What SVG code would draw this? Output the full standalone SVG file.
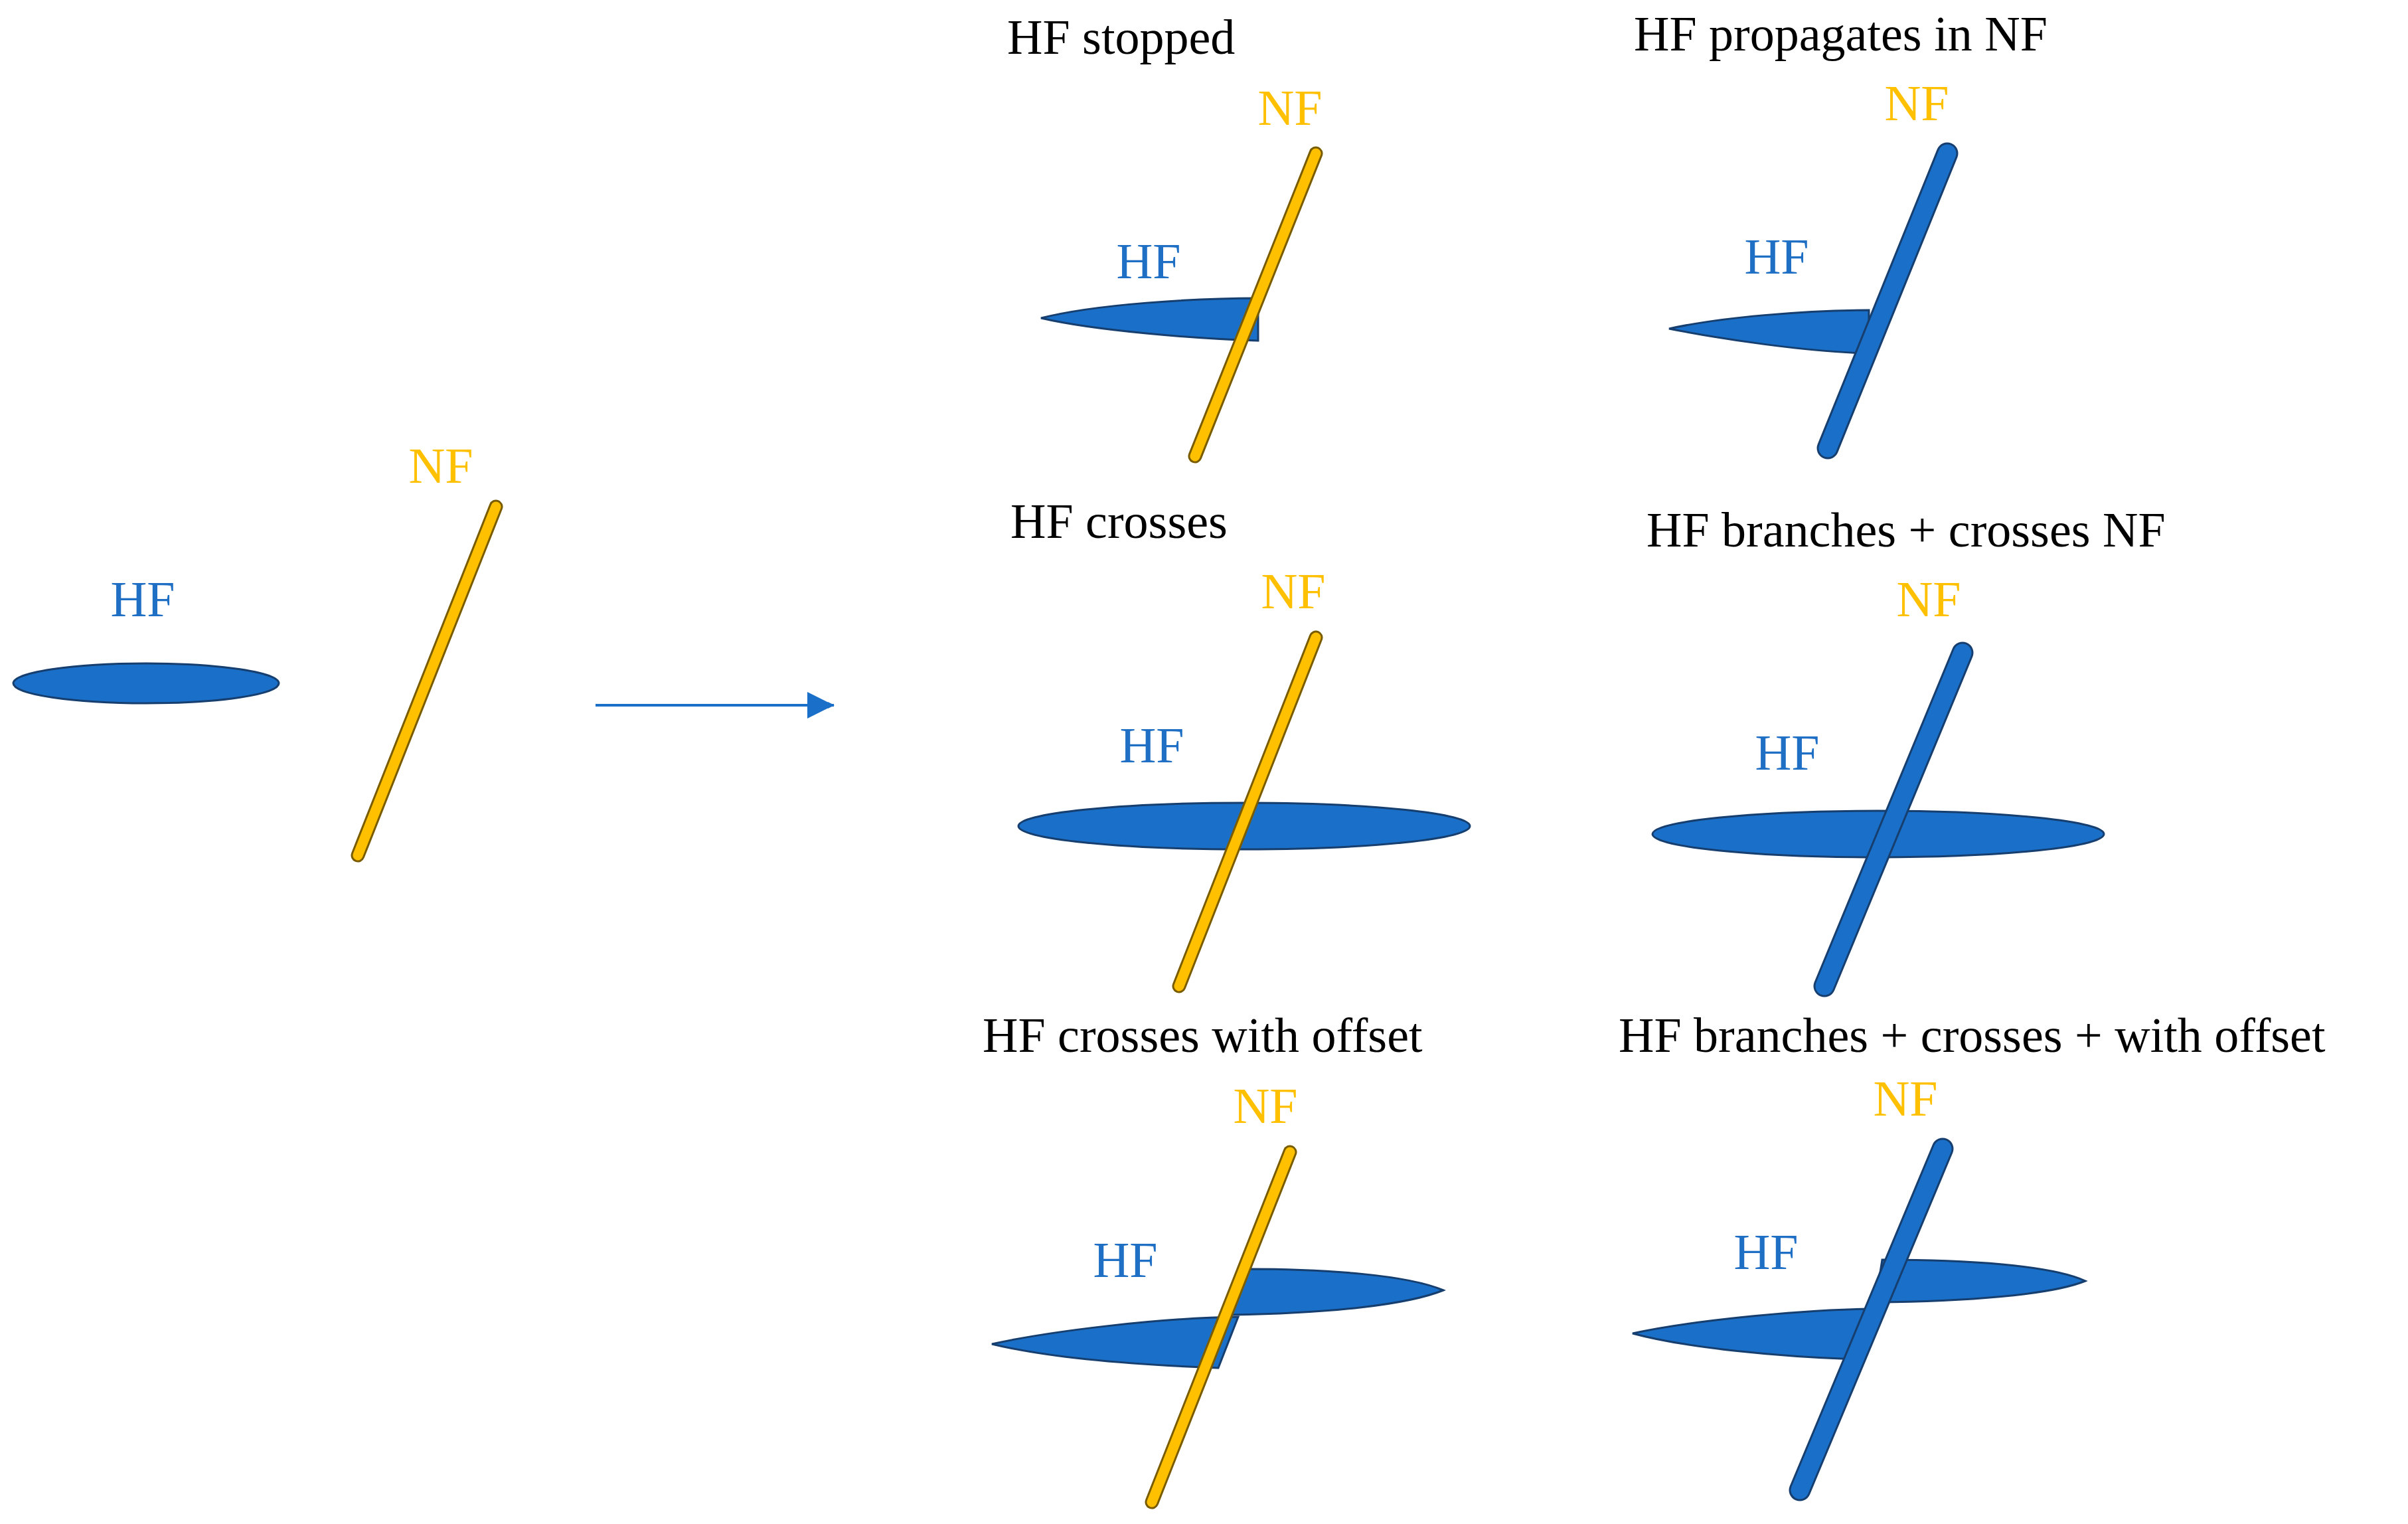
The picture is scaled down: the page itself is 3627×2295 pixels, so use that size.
<svg xmlns="http://www.w3.org/2000/svg" width="3627" height="2295" viewBox="0 0 3627 2295">
<style>
.t{font-family:"Liberation Serif",serif;font-size:74px;fill:#000}
.hf{font-family:"Liberation Serif",serif;font-size:76px;fill:#1f6fc5;text-anchor:middle}
.nf{font-family:"Liberation Serif",serif;font-size:76px;fill:#ffc000;text-anchor:middle}
.blob{fill:#1a70c9;stroke:#163e6e;stroke-width:3}
.yo{stroke:#7a5c00;stroke-width:21;stroke-linecap:round}
.yi{stroke:#ffc000;stroke-width:15;stroke-linecap:round}
.bo{stroke:#163e6e;stroke-width:33;stroke-linecap:round}
.bi{stroke:#1a70c9;stroke-width:27;stroke-linecap:round}
</style>
<defs><marker id="ah" markerWidth="10" markerHeight="10" refX="9" refY="5" orient="auto" markerUnits="userSpaceOnUse" viewBox="0 0 10 10"><path d="M0,0 L10,5 L0,10 Z" fill="#1a70c9"/></marker></defs>
<g id="initial">
<ellipse class="blob" cx="220" cy="1029" rx="200" ry="30"/>
<text class="hf" x="215" y="928">HF</text>
<line class="yo" x1="747" y1="763" x2="539" y2="1288"/><line class="yi" x1="747" y1="763" x2="539" y2="1288"/>
<text class="nf" x="664" y="727">NF</text>
</g>
<g id="connectors">
<line x1="897" y1="1062" x2="1256" y2="1062" stroke="#1a70c9" stroke-width="4" marker-end="url(#ah)"/>
<path d="M1216,1042 L1256,1062 L1216,1082 Z" fill="#1a70c9"/>
</g>
<g id="p1">
<text class="t" x="1517" y="81">HF stopped</text>
<path class="blob" d="M1568 479 C1650 458,1800 449,1895 449 L1895 513 C1800 510,1650 498,1568 479 Z"/>
<line class="yo" x1="1982" y1="231" x2="1800" y2="687"/><line class="yi" x1="1982" y1="231" x2="1800" y2="687"/>
<text class="hf" x="1730" y="419">HF</text>
<text class="nf" x="1943" y="188">NF</text>
</g>
<g id="p2">
<text class="t" x="2461" y="76">HF propagates in NF</text>
<path class="blob" d="M2514 495 C2590 478,2720 467,2815 467 L2815 532 C2720 530,2590 510,2514 495 Z"/>
<line class="bo" x1="2933" y1="231" x2="2753" y2="675"/><line class="bi" x1="2933" y1="231" x2="2753" y2="675"/>
<text class="hf" x="2676" y="412">HF</text>
<text class="nf" x="2887" y="181">NF</text>
</g>
<g id="p3">
<text class="t" x="1522" y="810">HF crosses</text>
<ellipse class="blob" cx="1874" cy="1244" rx="340" ry="35"/>
<line class="yo" x1="1982" y1="960" x2="1776" y2="1485"/><line class="yi" x1="1982" y1="960" x2="1776" y2="1485"/>
<text class="hf" x="1735" y="1148">HF</text>
<text class="nf" x="1948" y="916">NF</text>
</g>
<g id="p4">
<text class="t" x="2480" y="823">HF branches + crosses NF</text>
<ellipse class="blob" cx="2829" cy="1256" rx="340" ry="35"/>
<line class="bo" x1="2956" y1="983" x2="2748" y2="1485"/><line class="bi" x1="2956" y1="983" x2="2748" y2="1485"/>
<text class="hf" x="2692" y="1159">HF</text>
<text class="nf" x="2905" y="928">NF</text>
</g>
<g id="p5">
<text class="t" x="1480" y="1584">HF crosses with offset</text>
<path class="blob" d="M1494 2024 C1580 2005,1740 1985,1865 1983 L1835 2060 C1700 2055,1580 2045,1494 2024 Z"/>
<path class="blob" d="M1875 1911 C2000 1911,2120 1920,2174 1943 C2120 1965,2000 1978,1855 1980 Z"/>
<line class="yo" x1="1943" y1="1735" x2="1735" y2="2262"/><line class="yi" x1="1943" y1="1735" x2="1735" y2="2262"/>
<text class="hf" x="1695" y="1923">HF</text>
<text class="nf" x="1906" y="1691">NF</text>
</g>
<g id="p6">
<text class="t" x="2438" y="1584">HF branches + crosses + with offset</text>
<path class="blob" d="M2459 2008 C2540 1990,2700 1973,2815 1971 L2795 2047 C2680 2043,2540 2030,2459 2008 Z"/>
<path class="blob" d="M2835 1897 C2960 1897,3090 1905,3141 1929 C3090 1950,2960 1960,2825 1961 Z"/>
<line class="bo" x1="2926" y1="1730" x2="2711" y2="2244"/><line class="bi" x1="2926" y1="1730" x2="2711" y2="2244"/>
<text class="hf" x="2660" y="1911">HF</text>
<text class="nf" x="2870" y="1680">NF</text>
</g>
</svg>
